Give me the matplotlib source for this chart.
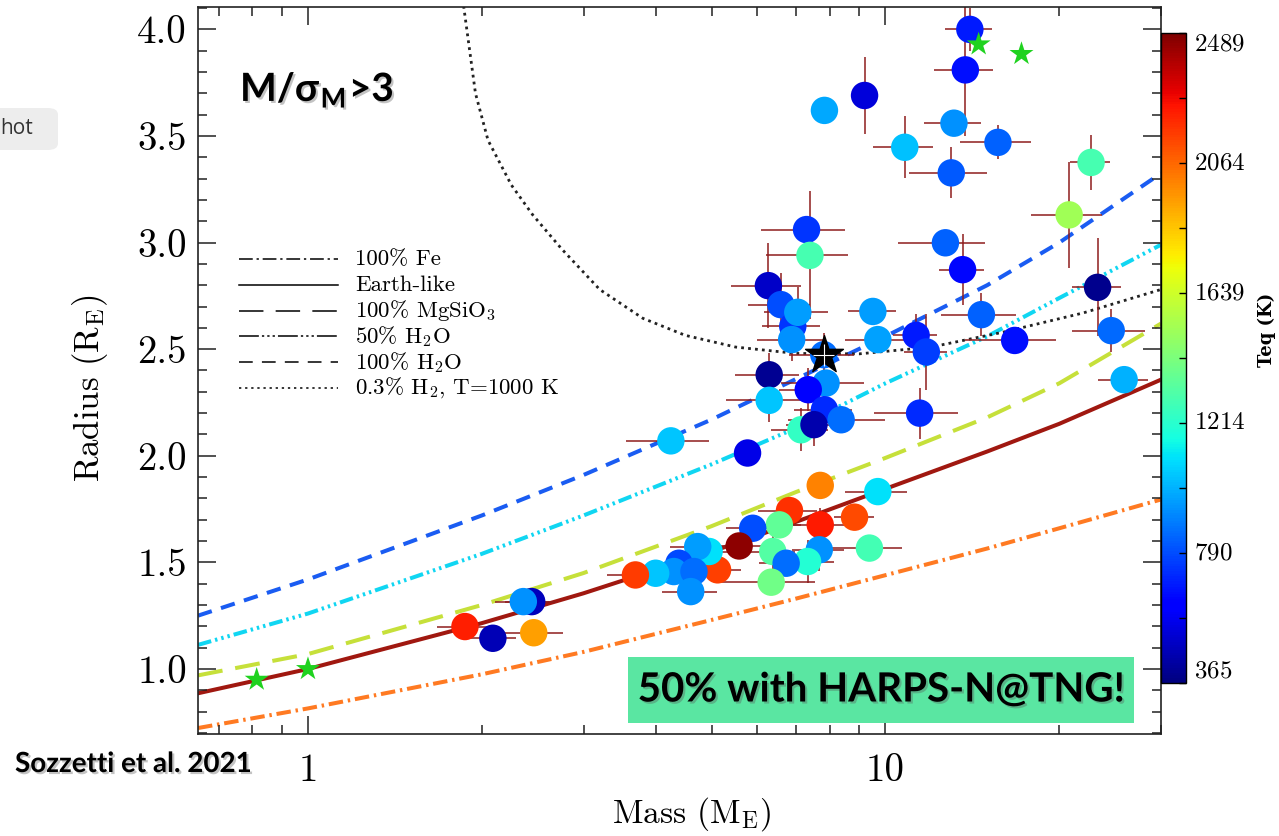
import matplotlib
matplotlib.use('Agg')
import matplotlib.pyplot as plt
import matplotlib.patheffects as pe
from matplotlib.patches import Rectangle, FancyBboxPatch
from matplotlib.colors import Normalize
from matplotlib.cm import ScalarMappable
from matplotlib.ticker import FixedLocator, NullFormatter, MultipleLocator

plt.rcParams['font.family'] = ['cmr10', 'DejaVu Serif']
plt.rcParams['mathtext.fontset'] = 'cm'
plt.rcParams['axes.formatter.use_mathtext'] = True

# planets: mass, radius (Earth units), 1-sigma errors, equilibrium temperature (K)
mass = [13.14, 7.84, 9.2, 14.0, 13.75, 10.8, 15.66, 13.0, 22.7, 20.8, 23.3, 24.6, 25.9,
        7.30, 7.40, 6.27, 6.59, 6.91, 6.88, 7.05, 9.51, 9.70, 11.3, 11.77, 12.7, 13.6,
        14.66, 16.74, 6.29, 7.82, 7.89, 7.35, 6.29, 7.84, 8.38, 7.14, 7.52, 11.46, 5.77,
        4.25, 7.71, 9.70, 6.82, 7.71, 8.84, 6.55, 5.89, 5.58, 6.38, 7.68, 7.33, 6.73,
        9.38, 6.34, 5.12, 4.95, 4.73, 4.39, 4.30, 4.66, 4.00, 3.69, 4.60, 1.87, 2.09,
        2.44, 2.36, 2.46]
radius = [3.56, 3.62, 3.69, 4.00, 3.81, 3.447, 3.47, 3.327, 3.376, 3.13, 2.79, 2.587, 2.357,
          3.061, 2.94, 2.798, 2.709, 2.607, 2.545, 2.673, 2.677, 2.545, 2.565, 2.487, 2.999, 2.873,
          2.662, 2.541, 2.38, 2.474, 2.341, 2.31, 2.26, 2.216, 2.169, 2.122, 2.146, 2.20, 2.013,
          2.07, 1.861, 1.832, 1.743, 1.676, 1.712, 1.676, 1.66, 1.577, 1.551, 1.559, 1.504, 1.496,
          1.567, 1.407, 1.465, 1.551, 1.574, 1.496, 1.457, 1.457, 1.449, 1.441, 1.363, 1.199, 1.144,
          1.316, 1.316, 1.17]
mass_err = [1.5, 0, 0, 1.3, 1.6, 1.3, 2.2, 2.0, 1.8, 2.9, 2.3, 3.6, 2.6,
            1.2, 1.2, 0.87, 0.8, 0.8, 0.9, 0.9, 0.9, 1.2, 1.0, 1.0, 2.2, 1.2,
            2.2, 3.0, 0.8, 1.0, 1.3, 0.8, 1.0, 0.9, 1.6, 0.8, 0.8, 1.9, 0,
            0.7, 0, 1.2, 0.8, 0.8, 0.7, 0.6, 0.6, 0.5, 0.6, 0.8, 0.8, 0.7,
            1.3, 1.2, 0.5, 0.4, 0.5, 0.5, 0.5, 0.5, 0.4, 0.4, 0.5, 0.2, 0.2,
            0.25, 0.25, 0.3]
radius_err = [0, 0, 0.18, 0.10, 0.31, 0.145, 0.08, 0.12, 0.13, 0.25, 0.23, 0.10, 0.03,
              0.03, 0.30, 0.20, 0.15, 0.10, 0.10, 0.12, 0.05, 0.03, 0.10, 0.18, 0.05, 0.165,
              0.10, 0.06, 0.10, 0.10, 0.06, 0.10, 0.10, 0.10, 0.05, 0.10, 0.10, 0.12, 0,
              0, 0, 0, 0.05, 0.08, 0.03, 0.05, 0.05, 0.05, 0.10, 0.10, 0.10, 0.05,
              0, 0.05, 0.03, 0.03, 0.03, 0.03, 0.03, 0.03, 0.03, 0.02, 0.06, 0.02, 0.02,
              0.03, 0.03, 0.02]
teq = [930, 980, 535, 683, 660, 1030, 830, 815, 1290, 1520, 395, 850, 1000,
       740, 1290, 500, 790, 740, 930, 960, 960, 970, 683, 760, 830, 640,
       830, 660, 400, 860, 930, 600, 1040, 720, 860, 1240, 450, 720, 560,
       1045, 2000, 1100, 2190, 2240, 2130, 1360, 790, 2460, 1320, 930, 1200, 860,
       1280, 1400, 2150, 1100, 960, 780, 930, 860, 1045, 2160, 930, 2230, 470,
       480, 930, 1940]

# highlighted planet and solar-system reference bodies
star_mass, star_radius = 7.82, 2.474
ss_mass = [0.815, 1.0, 14.5, 17.2]
ss_radius = [0.95, 1.0, 3.93, 3.885]

# composition tracks
track_mass = [0.645, 1, 2, 3, 5, 7, 10, 15, 20, 30]
fe_track = [0.723, 0.815, 0.975, 1.08, 1.23, 1.33, 1.44, 1.565, 1.66, 1.795]
earth_track = [0.886, 1.0, 1.215, 1.355, 1.55, 1.69, 1.845, 2.02, 2.15, 2.357]
mgsio3_track = [0.97, 1.07, 1.30, 1.45, 1.67, 1.83, 1.99, 2.18, 2.34, 2.62]
h2o50_track = [1.113, 1.26, 1.54, 1.72, 1.96, 2.13, 2.34, 2.56, 2.74, 2.99]
h2o100_track = [1.25, 1.42, 1.72, 1.91, 2.17, 2.36, 2.56, 2.80, 3.00, 3.325]
h2_mass = [1.86, 1.95, 2.05, 2.25, 2.45, 2.75, 3.2, 3.8, 4.5, 5.5, 7.0, 9.0, 12, 16, 22, 30]
h2_track = [4.11, 3.70, 3.48, 3.27, 3.13, 2.97, 2.78, 2.645, 2.565, 2.51, 2.48, 2.478,
            2.51, 2.58, 2.67, 2.78]

legend_labels = ['100% Fe', 'Earth-like', r'100% MgSiO$_3$', r'50% H$_2$O',
                 r'100% H$_2$O', r'0.3% H$_2$, T=1000 K']
cbar_ticks = [365, 790, 1214, 1639, 2064, 2489]

W, H = 1279, 836
fig = plt.figure(figsize=(W / 100, H / 100), dpi=100)
ax = fig.add_axes([198 / W, 1 - 734 / H, (1161 - 198) / W, (734 - 7) / H])
ax.set_xscale('log')
ax.set_xlim(0.645, 30)
ax.set_ylim(0.695, 4.105)

styles = [
    (fe_track, '#ff7a22', (0, (3.6, 1.2, 0.6, 1.2)), (0, (9, 2.5, 1.5, 2.5))),
    (earth_track, '#a01810', '-', '-'),
    (mgsio3_track, '#c6e03a', (0, (6.2, 3.2)), (0, (16, 8))),
    (h2o50_track, '#10d6f2', (0, (3.4, 1.0, 0.6, 1.0, 0.6, 1.0, 0.6, 1.0)),
     (0, (13, 2, 1.5, 2, 1.5, 2, 1.5, 2))),
    (h2o100_track, '#1a5cf2', (0, (3.6, 2.4)), (0, (9, 6))),
]
for track, col, ls, _ in styles:
    ax.plot(track_mass, track, color=col, lw=2.9, ls=ls, zorder=1)
ax.plot(h2_mass, h2_track, color='#222222', lw=2.0, ls=(0, (1, 1.5)), zorder=1)

# legend drawn by hand, black line samples
leg_styles = [s[3] for s in styles] + [(0, (1.5, 2.5))]
for i, (lab, ls) in enumerate(zip(legend_labels, leg_styles)):
    yy = (734 - (259 + 25.8 * i)) / 727
    ax.plot([0.0426, 0.1454], [yy, yy], transform=ax.transAxes, color='k', lw=1.1, ls=ls)
    ax.text(0.163, yy, lab, transform=ax.transAxes, fontsize=16.5, va='center', ha='left')

norm = Normalize(365, 2489)
ax.errorbar(mass, radius, xerr=mass_err, yerr=radius_err, fmt='none', ecolor='#8e1c1c',
            elinewidth=1.1, capsize=0, zorder=2)
ax.scatter(mass, radius, c=teq, cmap='jet', norm=norm, s=390, edgecolors='none', zorder=3)

ax.scatter([star_mass], [star_radius], marker='*', s=820, c='k', zorder=4)
ax.errorbar([star_mass], [star_radius], xerr=0.32, yerr=0.052, fmt='none', ecolor='white',
            elinewidth=0.8, capsize=0, zorder=5)
ax.scatter(ss_mass, ss_radius, marker='*', s=330, c='#1fd21f', edgecolors='none', zorder=4)

ax.xaxis.set_major_locator(FixedLocator([1, 10]))
ax.xaxis.set_major_formatter(matplotlib.ticker.FixedFormatter(['1', '10']))
ax.xaxis.set_minor_locator(FixedLocator([0.7, 0.8, 0.9, 2, 3, 4, 5, 6, 7, 8, 9, 20, 30]))
ax.xaxis.set_minor_formatter(NullFormatter())
ax.yaxis.set_major_locator(MultipleLocator(0.5))
ax.yaxis.set_minor_locator(MultipleLocator(0.1))
ax.yaxis.set_major_formatter(matplotlib.ticker.FormatStrFormatter('%.1f'))
ax.tick_params(which='both', direction='in', top=True, right=True, width=1.1, color='#222222')
ax.tick_params(which='major', length=13)
ax.tick_params(which='minor', length=6.5)
ax.tick_params(axis='x', labelsize=28, pad=14)
ax.tick_params(axis='y', labelsize=28, pad=8)
for sp in ax.spines.values():
    sp.set_linewidth(1.2)
    sp.set_color('#222222')

ax.set_xlabel(r'Mass (M$_\mathrm{E}$)', fontsize=24)
ax.set_ylabel(r'Radius (R$_\mathrm{E}$)', fontsize=25)
ax.xaxis.set_label_coords(0.513, -0.084)
ax.yaxis.set_label_coords(-0.091, 0.476)

# colour bar
cax = fig.add_axes([1161 / W, 1 - 683 / H, 25 / W, 650 / H])
cb = fig.colorbar(ScalarMappable(norm=norm, cmap='jet'), cax=cax, ticks=cbar_ticks)
cb.outline.set_linewidth(1.0)
cax.yaxis.set_minor_locator(FixedLocator([577.5, 1002, 1426.5, 1851.5, 2276.5]))
cax.tick_params(which='both', direction='in', length=5, width=1.0, labelsize=18, pad=6)
for t in cax.get_yticklabels():
    t.set_va('center')
cax.get_yticklabels()[0].set_va('bottom')
cax.get_yticklabels()[-1].set_va('top')
fig.text(1267 / W, 1 - 330 / H, 'Teq (K)', rotation=90, fontsize=13, weight='bold',
         family=['DejaVu Serif'], ha='center', va='center')

# annotations
shadow = [pe.SimplePatchShadow(offset=(1.5, -1.5), alpha=0.35, shadow_rgbFace='#555555'), pe.Normal()]
sans = ['Lato', 'Open Sans', 'DejaVu Sans']
fig.text(240 / W, 1 - 90 / H, r'M/σ$_\mathregular{M}$>3', family=sans, weight='bold',
         fontsize=28, ha='left', va='center', path_effects=shadow)
fig.text(15 / W, 1 - 764 / H, 'Sozzetti et al. 2021', family=sans, weight='bold',
         fontsize=20, ha='left', va='center', path_effects=shadow)
fig.add_artist(Rectangle((628 / W, 1 - 723 / H), (1134 - 628) / W, 66 / H,
                         transform=fig.transFigure, facecolor='#5ae6a2', edgecolor='none',
                         zorder=6))
fig.text(881 / W, 1 - 690 / H, '50% with HARPS-N@TNG!', family=sans, weight='bold',
         fontsize=29, ha='center', va='center', path_effects=shadow, zorder=7)
fig.add_artist(FancyBboxPatch((-12 / W, 1 - 150 / H), 70 / W, 42 / H,
                              boxstyle='round,pad=0,rounding_size=0.008',
                              transform=fig.transFigure, facecolor='#ededed',
                              edgecolor='none', zorder=6))
fig.text(0, 1 - 128 / H, 'hot', family=['Open Sans', 'DejaVu Sans'], fontsize=15,
         ha='left', va='center', color='#333333', zorder=7)

fig.savefig('out.png', dpi=100)
